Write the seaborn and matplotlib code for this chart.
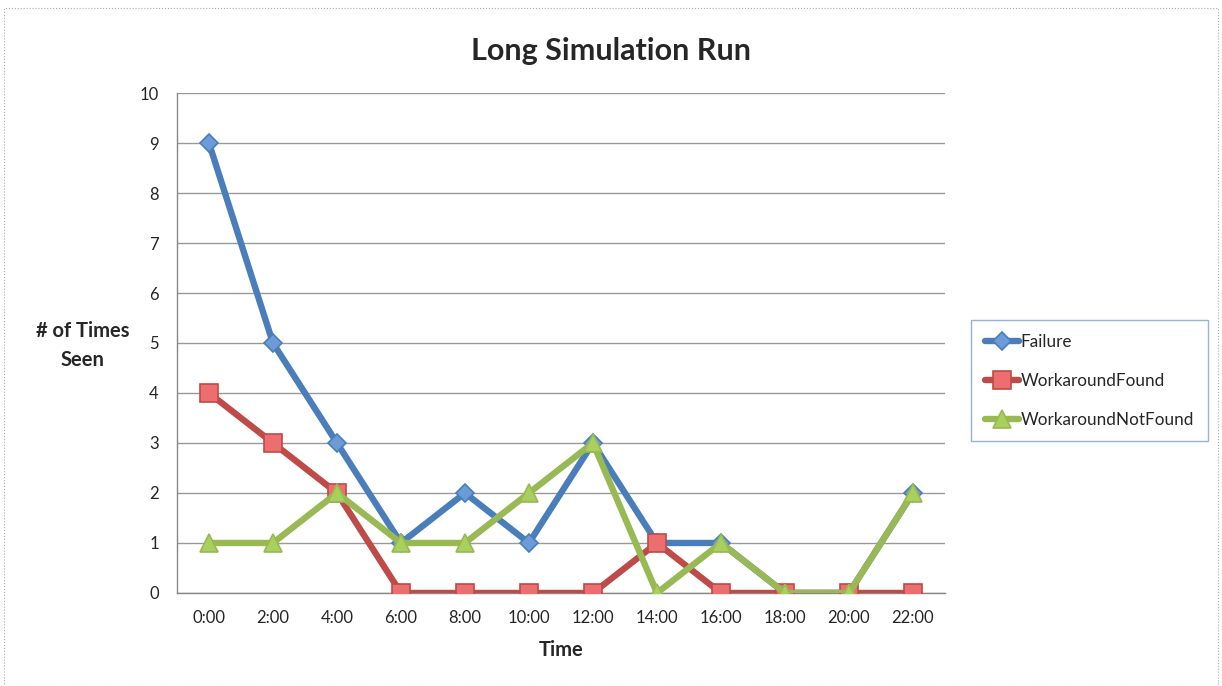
import pandas as pd
import matplotlib
matplotlib.use('Agg')
from matplotlib import pyplot as plt
from matplotlib.patches import Rectangle
import seaborn as sns

times = ['0:00', '2:00', '4:00', '6:00', '8:00', '10:00',
         '12:00', '14:00', '16:00', '18:00', '20:00', '22:00']
failure = [9, 5, 3, 1, 2, 1, 3, 1, 1, 0, 0, 2]
workaround_found = [4, 3, 2, 0, 0, 0, 0, 1, 0, 0, 0, 0]
workaround_not_found = [1, 1, 2, 1, 1, 2, 3, 0, 1, 0, 0, 2]
series = ['Failure', 'WorkaroundFound', 'WorkaroundNotFound']

colors = {
    'Failure': '#4A7EBB',
    'WorkaroundFound': '#BE4B48',
    'WorkaroundNotFound': '#98B954',
}
marker_face = {
    'Failure': '#6C9BD8',
    'WorkaroundFound': '#EC6E6E',
    'WorkaroundNotFound': '#A9D05C',
}
markers = {'Failure': 'D', 'WorkaroundFound': 's', 'WorkaroundNotFound': '^'}
sizes = {'Failure': 9.5, 'WorkaroundFound': 12.5, 'WorkaroundNotFound': 13}

df = pd.DataFrame({
    'Time': times * 3,
    'pos': list(range(len(times))) * 3,
    'count': failure + workaround_found + workaround_not_found,
    'series': [s for s in series for _ in times],
})

sns.set_style('white')
plt.rcParams['font.family'] = ['Lato', 'DejaVu Sans']

fig = plt.figure(figsize=(12.22, 6.86), dpi=100)
ax = fig.add_axes([0.1448, 0.1356, 0.6285, 0.7288])

for s in series:
    sub = df[df['series'] == s]
    sns.lineplot(data=sub, x='pos', y='count', ax=ax, color=colors[s],
                 linewidth=4.6, marker=markers[s], markersize=sizes[s],
                 markerfacecolor=marker_face[s], markeredgecolor=colors[s],
                 markeredgewidth=1.2, label=s, zorder=3)

ax.set_xlim(-0.5, len(times) - 0.5)
ax.set_ylim(0, 10)
ax.set_yticks(range(0, 11))
ax.set_xticks(range(len(times)))
ax.set_xticklabels(times)
ax.set_xticks([i - 0.5 for i in range(len(times) + 1)], minor=True)
ax.tick_params(axis='x', which='major', length=0, pad=12, labelsize=12)
ax.tick_params(axis='x', which='minor', length=5, color='#888888', direction='out')
ax.tick_params(axis='y', length=5, color='#888888', direction='out', pad=8, labelsize=12)
ax.grid(axis='y', color='#999999', linewidth=1.0, zorder=0)
ax.set_axisbelow(True)
for side in ['top', 'right']:
    ax.spines[side].set_visible(False)
for side in ['left', 'bottom']:
    ax.spines[side].set_color('#888888')
    ax.spines[side].set_linewidth(1.0)

ax.set_xlabel('Time', fontsize=14.5, fontweight='bold', labelpad=10)
ax.set_ylabel('# of Times\nSeen', fontsize=14.5, fontweight='bold',
              rotation=0, ha='center', va='center', labelpad=0, linespacing=1.6)
ax.yaxis.set_label_coords(-0.123, 0.495)
fig.text(0.5, 0.925, 'Long Simulation Run', ha='center', va='center',
         fontsize=22, fontweight='bold')

leg = ax.legend(loc='upper left', bbox_to_anchor=(0.7946, 0.5335),
                bbox_transform=fig.transFigure, frameon=True, fancybox=False,
                fontsize=12.3, handlelength=2.0, handletextpad=0.1,
                labelspacing=1.35, borderpad=0.8, borderaxespad=0)
leg.get_frame().set_edgecolor('#7F9FCF')
leg.get_frame().set_linewidth(1.0)

fig.patches.append(Rectangle((0.003, 0.0), 0.994, 0.988, transform=fig.transFigure,
                             fill=False, edgecolor='#AAAAAA', linestyle=':', linewidth=0.8))

fig.savefig('out.png', dpi=100)
